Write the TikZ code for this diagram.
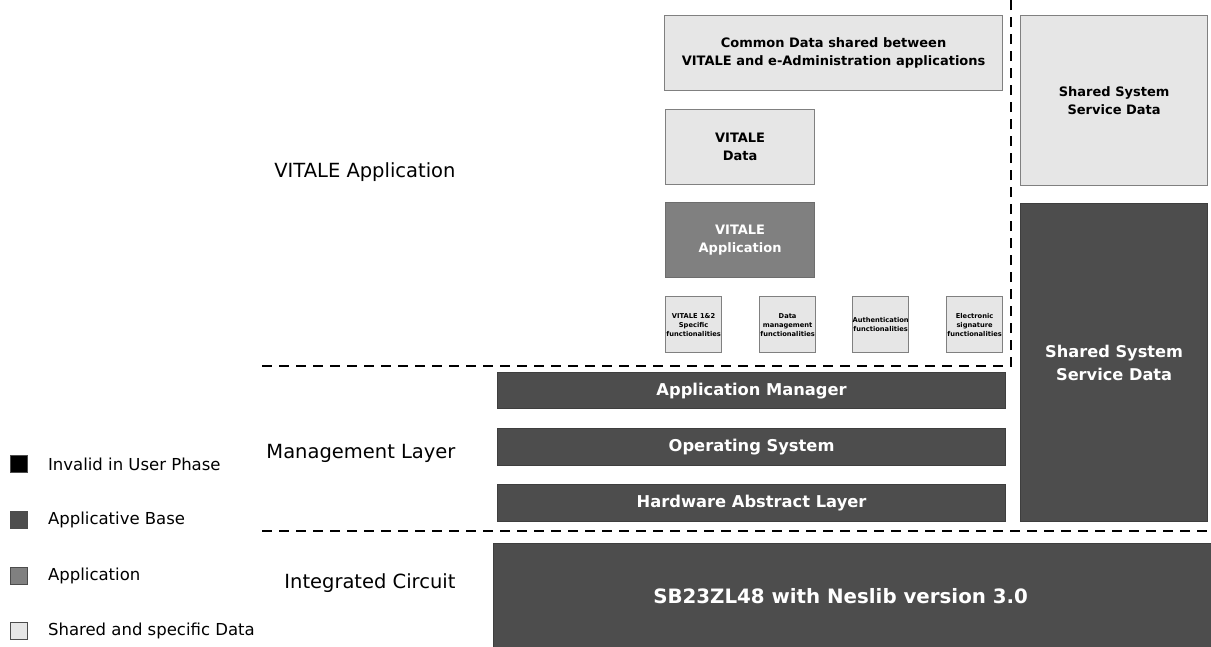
\documentclass[tikz,border=0pt]{standalone}
\usepackage{fontspec}
\setmainfont{DejaVu Sans}
\usetikzlibrary{positioning}

\definecolor{lightgr}{HTML}{E6E6E6}
\definecolor{midgr}{HTML}{808080}
\definecolor{darkgr}{HTML}{4D4D4D}

\tikzset{
  blk/.style={draw=midgr, line width=1.2pt, inner sep=0pt, anchor=north west, align=center, font=\bfseries\fontsize{13}{18}\selectfont},
  lightbox/.style={blk, fill=lightgr, text=black},
  appbox/.style={blk, fill=midgr, text=white, draw=midgr!85!black},
  basebox/.style={blk, fill=darkgr, text=white, draw=darkgr!80!black, font=\bfseries\fontsize{16.3}{20}\selectfont},
  funcbox/.style={lightbox, minimum width=56pt, minimum height=56pt, font=\bfseries\fontsize{6.7}{9}\selectfont},
  layerlabel/.style={anchor=east, font=\fontsize{19.5}{22}\selectfont},
  sepline/.style={dashed, dash pattern=on 10pt off 7pt, line width=2.4pt},
  key/.style={draw=black!70, line width=0.8pt, minimum size=17pt, inner sep=0pt},
  keytext/.style={right=20pt, anchor=west, font=\fontsize{16.5}{18}\selectfont, inner sep=0pt}
}

\begin{document}
\begin{tikzpicture}[x=1pt, y=-1pt]
\useasboundingbox (0,0) rectangle (1211,646);

% Application part
\node[lightbox, minimum width=338pt, minimum height=75pt] (common) at (664,15)
  {Common Data shared between\\VITALE and e-Administration applications};
\node[lightbox, minimum width=149pt, minimum height=75pt] (vdata) at (665,109) {VITALE\\Data};
\node[appbox, minimum width=149pt, minimum height=75pt] (vapp) at (665,202) {VITALE\\Application};

\node[funcbox] (f1) at (665,296) {VITALE 1\&2\\Specific\\functionalities};
\node[funcbox] (f2) at (759,296) {Data\\management\\functionalities};
\node[funcbox] (f3) at (852,296) {Authentication\\functionalities};
\node[funcbox] (f4) at (946,296) {Electronic\\signature\\functionalities};

% Shared system service
\node[lightbox, minimum width=187pt, minimum height=170pt] (sssd1) at (1020,15) {Shared System\\Service Data};
\node[basebox, minimum width=187pt, minimum height=318pt, font=\bfseries\fontsize{16.2}{23}\selectfont] (sssd2) at (1020,203)
  {Shared System\\Service Data};

% Management layer
\node[basebox, minimum width=508pt, minimum height=36pt] (appman) at (497,372) {Application Manager};
\node[basebox, minimum width=508pt, minimum height=37pt] (os) at (497,428) {Operating System};
\node[basebox, minimum width=508pt, minimum height=37pt] (hal) at (497,484) {Hardware Abstract Layer};

% Integrated circuit
\node[basebox, minimum width=720pt, minimum height=105pt, font=\bfseries\fontsize{19.8}{22}\selectfont] (chip) at (493,543)
  {SB23ZL48 with Neslib version 3.0\hspace*{26pt}};

% Separators
\coordinate (s1a) at (262,366);
\coordinate (s1b) at (1011,366);
\coordinate (s1t) at (1011,0);
\coordinate (s2a) at (262,531);
\coordinate (s2b) at (1211,531);
\draw[sepline] (s1a) -- (s1b) -- (s1t);
\draw[sepline] (s2a) -- (s2b);

% Layer labels
\node[layerlabel] (lapp) at (459,172) {VITALE Application};
\node[layerlabel] (lman) at (459,453) {Management Layer};
\node[layerlabel] (lic) at (459,583) {Integrated Circuit};

% Legend
\node[key, fill=black] (k1) at (19,464) {};
\node[key, fill=darkgr] (k2) at (19,520) {};
\node[key, fill=midgr] (k3) at (19,576) {};
\node[key, fill=lightgr] (k4) at (19,631) {};
\node[keytext] at (k1.east) {Invalid in User Phase};
\node[keytext] at (k2.east) {Applicative Base};
\node[keytext] at (k3.east) {Application};
\node[keytext] at (k4.east) {Shared and specific Data};

\end{tikzpicture}
\end{document}
